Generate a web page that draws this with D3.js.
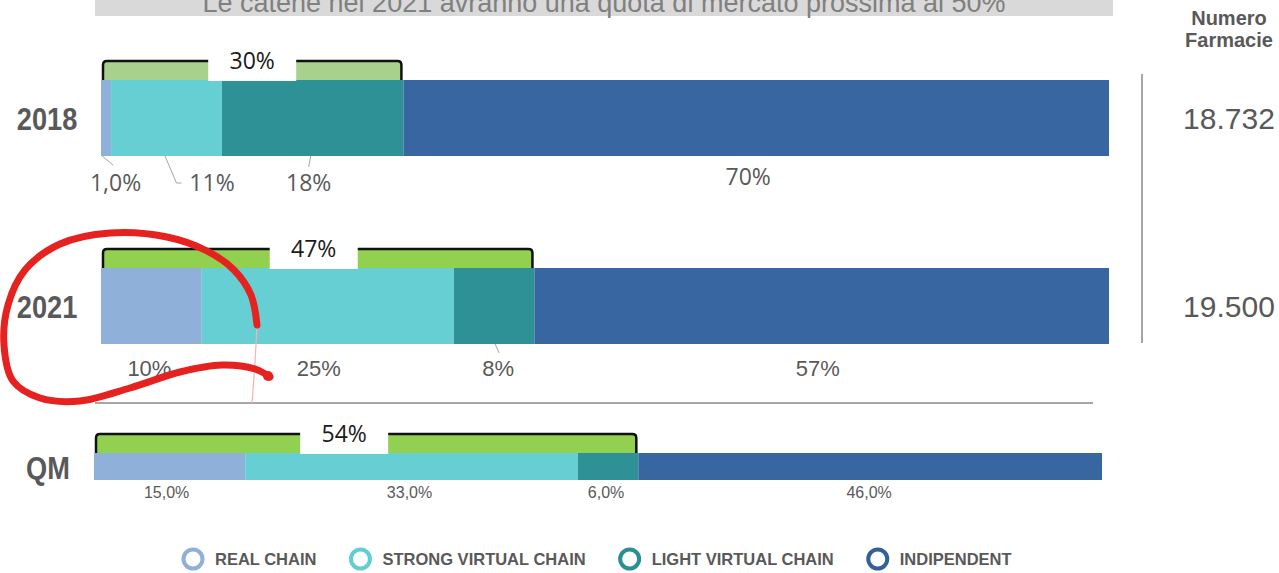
<!DOCTYPE html>
<html>
<head>
<meta charset="utf-8">
<script src="https://cdn.jsdelivr.net/npm/d3@7"></script>
<style>
  body { margin: 0; background: #fff; }
  svg { display: block; }
</style>
</head>
<body>
<div id="chart"></div>
<script>
// data
const categories = ["2018", "2021", "QM"];
const seriesKeys = ["REAL CHAIN", "STRONG VIRTUAL CHAIN", "LIGHT VIRTUAL CHAIN", "INDIPENDENT"];
const share2018 = [1.0, 11, 18, 70];
const share2021 = [10, 25, 8, 57];
const shareQM = [15, 33, 6, 46];
const labels2018 = ["1,0%", "11%", "18%", "70%"];
const labels2021 = ["10%", "25%", "8%", "57%"];
const labelsQM = ["15,0%", "33,0%", "6,0%", "46,0%"];
const chainLabels = ["30%", "47%", "54%"];
const pharmacyCounts = ["18.732", "19.500"];
const titleText = "Le catene nel 2021 avranno una quota di mercato prossima al 50%";

const colors = ["#8fb0d9", "#66cfd3", "#2e9196", "#3866a0"];
const legendColors = ["#8fb0d9", "#5fcfd2", "#2a8f93", "#345f99"];

// layout per row (pixels, not data)
const rows = [
  { x0: 101, y: 80, h: 76, green: "#a9d18e", labelShift: 0, font: "'Open Sans', sans-serif", size: 23, base: 191,
    dx: [9.5, 45.5, -4, -8], leaders: [[[-4, 0], [7, 9]], [[-1.5, 0], [10, 27], [15, 27]], [[-2, 0], [-4, 11]], null] },
  { x0: 101, y: 268, h: 76, green: "#92d050", labelShift: -4, font: "'Liberation Sans', Arial, sans-serif", size: 22, base: 376,
    dx: [-2, -9, 4, -4], leaders: [null, null, [[1, 0], [5, 9]], null] },
  { x0: 94, y: 453, h: 27, green: "#92d050", labelShift: -22, font: "'Liberation Sans', Arial, sans-serif", size: 16, base: 498,
    dx: [-3, -2, -2, -1], leaders: [null, null, null, null] }
];
const barWidth = 1008;

const sans = "'Liberation Sans', Arial, sans-serif";
const textGray = "#595959";

const table = categories.map(function (c, i) {
  const vals = [share2018, share2021, shareQM][i];
  const o = { cat: c };
  seriesKeys.forEach(function (k, j) { o[k] = vals[j]; });
  return o;
});
const valueLabels = [labels2018, labels2021, labelsQM];

const svg = d3.select("#chart").append("svg")
  .attr("width", 1279)
  .attr("height", 573);

// title banner (cut at the top of the slide)
svg.append("rect")
  .attr("x", 95).attr("y", -30)
  .attr("width", 1018).attr("height", 46)
  .attr("fill", "#d9d9d9");
svg.append("text")
  .attr("x", 604).attr("y", 12)
  .attr("text-anchor", "middle")
  .style("font-family", sans)
  .style("font-size", "27px")
  .attr("fill", "#808080")
  .text(titleText);

const stacked = d3.stack().keys(seriesKeys)(table);

table.forEach(function (row, i) {
  const L = rows[i];
  const x = d3.scaleLinear().domain([0, 100]).range([L.x0, L.x0 + barWidth]);
  const segs = stacked.map(function (s) { return s[i]; });

  const g = svg.append("g").attr("class", "row");

  // stacked bar
  g.selectAll("rect.seg")
    .data(segs)
    .enter().append("rect")
    .attr("class", "seg")
    .attr("x", function (d) { return x(d[0]); })
    .attr("y", L.y)
    .attr("width", function (d) { return x(d[1]) - x(d[0]); })
    .attr("height", L.h)
    .attr("fill", function (d, j) { return colors[j]; });

  // chain bracket over the first three series
  const bx0 = x(0) + 2;
  const bx1 = x(segs[2][1]) - 2;
  const yb = L.y, yt = L.y - 19;
  g.append("rect")
    .attr("x", bx0).attr("y", yt)
    .attr("width", bx1 - bx0).attr("height", yb - yt)
    .attr("fill", L.green);
  g.append("path")
    .attr("d", "M" + bx0 + "," + yb + "V" + (yt + 4) + "Q" + bx0 + "," + yt + " " + (bx0 + 4) + "," + yt +
      "H" + (bx1 - 4) + "Q" + bx1 + "," + yt + " " + bx1 + "," + (yt + 4) + "V" + yb)
    .attr("fill", "none")
    .attr("stroke", "#111")
    .attr("stroke-width", 2.5);
  const lx = (bx0 + bx1) / 2 + L.labelShift;
  g.append("rect")
    .attr("x", lx - 44).attr("y", yt - 17)
    .attr("width", 88).attr("height", yb - yt + 18)
    .attr("fill", "#fff");
  g.append("text")
    .attr("x", lx).attr("y", yb - 11)
    .attr("text-anchor", "middle")
    .style("font-family", "'Open Sans', sans-serif")
    .style("font-size", "23px")
    .attr("fill", "#1a1a1a")
    .text(chainLabels[i]);

  // leader lines
  segs.forEach(function (d, j) {
    if (!L.leaders[j]) return;
    const cx = x((d[0] + d[1]) / 2);
    const pts = L.leaders[j].map(function (p) { return [cx + p[0], L.y + L.h + p[1]]; });
    g.append("path")
      .attr("d", d3.line()(pts))
      .attr("fill", "none")
      .attr("stroke", "#a6a6a6")
      .attr("stroke-width", 1);
  });

  // value labels
  g.selectAll("text.val")
    .data(segs)
    .enter().append("text")
    .attr("class", "val")
    .attr("x", function (d, j) { return x((d[0] + d[1]) / 2) + L.dx[j]; })
    .attr("y", function (d, j) { return (i === 0 && j === 3) ? L.base - 6 : L.base; })
    .attr("text-anchor", "middle")
    .style("font-family", L.font)
    .style("font-size", L.size + "px")
    .attr("fill", textGray)
    .text(function (d, j) { return valueLabels[i][j]; });

  // category label
  g.append("text")
    .attr("transform", "translate(" + (i === 2 ? 48 : 47) + "," + (L.y + L.h / 2 + 12) + ") scale(0.85,1)")
    .attr("text-anchor", "middle")
    .style("font-family", sans)
    .style("font-weight", "bold")
    .style("font-size", "32px")
    .attr("fill", textGray)
    .text(row.cat);

  // pharmacy count
  if (pharmacyCounts[i]) {
    g.append("text")
      .attr("x", 1229).attr("y", L.y + L.h / 2 + 11)
      .attr("text-anchor", "middle")
      .style("font-family", sans)
      .style("font-size", "30px")
      .attr("fill", textGray)
      .text(pharmacyCounts[i]);
  }
});

// right header
svg.append("text")
  .attr("x", 1229).attr("y", 25)
  .attr("text-anchor", "middle")
  .style("font-family", sans).style("font-weight", "bold").style("font-size", "20px")
  .attr("fill", textGray)
  .text("Numero");
svg.append("text")
  .attr("x", 1229).attr("y", 47)
  .attr("text-anchor", "middle")
  .style("font-family", sans).style("font-weight", "bold").style("font-size", "20px")
  .attr("fill", textGray)
  .text("Farmacie");

// separators
svg.append("line")
  .attr("x1", 1142).attr("x2", 1142).attr("y1", 74).attr("y2", 343)
  .attr("stroke", "#a6a6a6").attr("stroke-width", 2);
svg.append("line")
  .attr("x1", 95).attr("x2", 1093).attr("y1", 403).attr("y2", 403)
  .attr("stroke", "#a6a6a6").attr("stroke-width", 2);

// hand-drawn red loop around 2021
const scribble = [[270, 377], [255, 369], [222, 365], [180, 372], [130, 388], [80, 401], [40, 398], [13, 381],
  [4, 345], [8, 305], [25, 270], [60, 244], [110, 233], [167, 237], [207, 251], [234, 270], [251, 295], [257, 325]];
svg.append("path")
  .attr("d", d3.line().curve(d3.curveCatmullRom)([[257, 325], [255, 362], [252, 403]]))
  .attr("fill", "none").attr("stroke", "#f2b4b4").attr("stroke-width", 1.2);
svg.append("path")
  .attr("d", d3.line().curve(d3.curveCatmullRom)(scribble))
  .attr("fill", "none")
  .attr("stroke", "#e5221f")
  .attr("stroke-width", 7)
  .attr("stroke-linecap", "round");
svg.append("circle")
  .attr("cx", 268).attr("cy", 376).attr("r", 5)
  .attr("fill", "#e5221f");

// legend
const legend = svg.append("g").attr("transform", "translate(193,559)");
let lxPos = 0;
seriesKeys.forEach(function (k, j) {
  const item = legend.append("g").attr("transform", "translate(" + lxPos + ",0)");
  item.append("circle")
    .attr("r", 9.5)
    .attr("fill", "none")
    .attr("stroke", legendColors[j])
    .attr("stroke-width", 4);
  const t = item.append("text")
    .attr("x", 22).attr("y", 6)
    .style("font-family", sans).style("font-weight", "bold").style("font-size", "16.5px")
    .attr("fill", textGray)
    .text(k);
  lxPos += 22 + t.node().getComputedTextLength() + 44;
});
</script>
</body>
</html>
